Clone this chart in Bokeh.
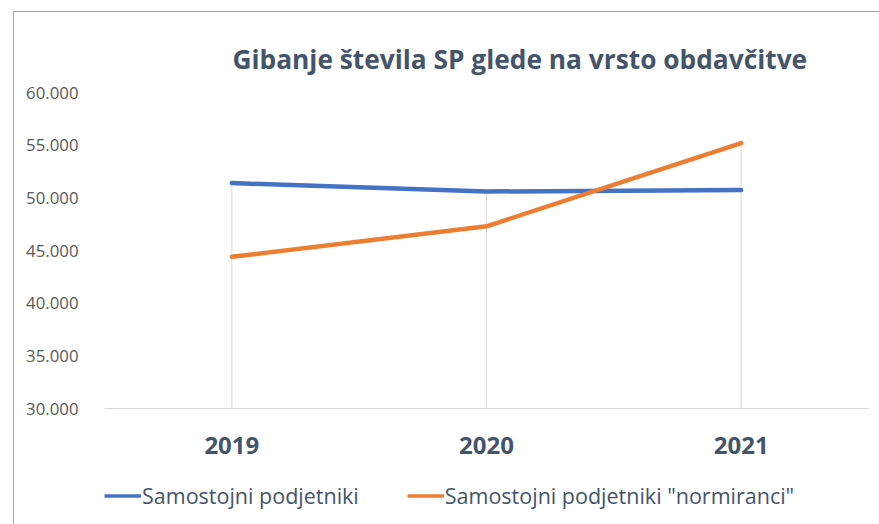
from bokeh.plotting import figure
from bokeh.layouts import column
from bokeh.models import FixedTicker, Legend, LegendItem, Range1d, FactorRange
from bokeh.embed import file_html
from bokeh.resources import INLINE

# ---- data ----
years = ["2019", "2020", "2021"]
sp = [51400, 50600, 50750]
normiranci = [44400, 47300, 55200]
y_ticks = [30000, 35000, 40000, 45000, 50000, 55000, 60000]
y_tick_labels = ["30.000", "35.000", "40.000", "45.000", "50.000", "55.000", "60.000"]
series_names = ["Samostojni podjetniki", 'Samostojni podjetniki "normiranci"']
series_colors = ["#4472C4", "#ED7D31"]
title_text = "Gibanje števila SP glede na vrsto obdavčitve"

FONT = "Open Sans"
TEXT_DARK = "#44546A"
LW = 4.5

p = figure(x_range=FactorRange(*years), y_range=Range1d(y_ticks[0], y_ticks[-1]),
           width=865, height=460, output_backend="svg", toolbar_location=None,
           min_border_left=90, min_border_right=11, min_border_top=80,
           min_border_bottom=64)
p.outline_line_color = None
p.xgrid.visible = False
p.ygrid.visible = False

# title
p.title.text = title_text
p.title.text_font = FONT
p.title.text_font_size = "26.3px"
p.title.text_font_style = "bold"
p.title.text_color = TEXT_DARK
p.title.align = "left"
p.title.offset = 128
p.title.standoff = 31

# drop lines
drop_top = [max(a, b) for a, b in zip(sp, normiranci)]
p.segment(x0=years, y0=[y_ticks[0]] * len(years), x1=years, y1=drop_top,
          line_color="#D9D9D9", line_width=1)

for vals, col in zip([sp, normiranci], series_colors):
    p.line(years, vals, line_color=col, line_width=LW,
           line_cap="round", line_join="round")

# y axis
p.yaxis.ticker = FixedTicker(ticks=y_ticks)
p.yaxis.major_label_overrides = dict(zip(y_ticks, y_tick_labels))
p.yaxis.axis_line_color = None
p.yaxis.major_tick_line_color = None
p.yaxis.minor_tick_line_color = None
p.yaxis.major_label_text_font = FONT
p.yaxis.major_label_text_font_size = "16.8px"
p.yaxis.major_label_text_color = "#595959"
p.yaxis.major_label_standoff = 20

# x axis
p.xaxis.axis_line_color = "#D9D9D9"
p.xaxis.axis_line_width = 1
p.xaxis.major_tick_line_color = None
p.xaxis.minor_tick_line_color = None
p.xaxis.major_label_text_font = FONT
p.xaxis.major_label_text_font_size = "24px"
p.xaxis.major_label_text_font_style = "bold"
p.xaxis.major_label_text_color = TEXT_DARK
p.xaxis.major_label_standoff = 22

# legend strip below the chart (series drawn out of view, only the legend shows)
q = figure(width=865, height=52, output_backend="svg", toolbar_location=None,
           x_range=FactorRange(*years), y_range=Range1d(0, 1),
           x_axis_type=None, y_axis_type=None,
           min_border_left=90, min_border_right=0, min_border_top=0,
           min_border_bottom=6)
q.outline_line_color = None
q.xgrid.visible = False
q.ygrid.visible = False
items = []
for name, vals, col in zip(series_names, [sp, normiranci], series_colors):
    r = q.line(years, vals, line_color=col, line_width=3.5)
    items.append(LegendItem(label=name, renderers=[r]))
legend = Legend(items=items, location="center_left", orientation="horizontal",
                glyph_width=37, glyph_height=20, label_height=20,
                label_standoff=1, spacing=48,
                padding=0, margin=0, border_line_color=None,
                background_fill_alpha=0,
                label_text_font=FONT, label_text_font_size="21.5px",
                label_text_color=TEXT_DARK)
q.add_layout(legend, "center")

lay = column(p, q, spacing=0)
lay.styles = {"border-left": "1px solid #A6A6A6", "border-top": "1px solid #A6A6A6",
              "margin-left": "13px", "margin-top": "11px"}

open("out.html", "w").write(file_html(lay, INLINE))
